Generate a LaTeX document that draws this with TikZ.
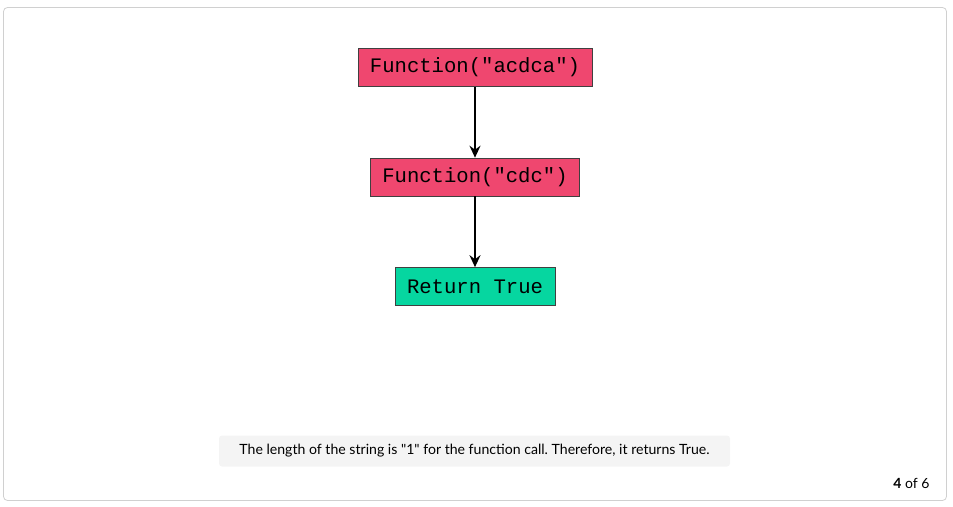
\documentclass[tikz,border=0pt]{standalone}
\usepackage{fontspec}
\setmainfont{Lato}[Ligatures=TeXOff]
\newfontfamily\monofont{Liberation Mono}
\usetikzlibrary{arrows.meta}
\definecolor{callred}{HTML}{EF476F}
\definecolor{retgreen}{HTML}{06D6A0}
\definecolor{capgray}{HTML}{F4F4F4}
\definecolor{framegray}{HTML}{D0D0D0}
\frenchspacing
\begin{document}
\begin{tikzpicture}[x=1pt,y=-1pt,
  box/.style={draw=black!75,line width=0.6pt,minimum height=38pt,inner xsep=12pt,
    font=\monofont\fontsize{20.6}{24}\selectfont},
  link/.style={-{Stealth[length=12pt,width=11pt,inset=4pt]},line width=2pt}]
            \useasboundingbox (0,0) rectangle (953,506);
            \draw[framegray,line width=0.8pt,rounded corners=4pt] (3.5,7.5) rectangle (946.5,500.5);
            
            \node[box,fill=callred] (A) at (475,67.5) {Function("acdca")};
            \node[box,fill=callred] (B) at (475,177) {Function("cdc")};
            \node[box,fill=retgreen] (C) at (475,286.5) {Return True};
            
            \path [link] (A) edge (B);
            \path [link] (B) edge (C);
            
            \node[fill=capgray,rounded corners=3pt,minimum width=511pt,minimum height=31pt,
              font=\fontsize{14.1}{17}\selectfont] (N) at (474.5,451)
              {The length of the string is "1" for the function call. Therefore, it returns True.};
            \node[anchor=east,font=\fontsize{14}{17}\selectfont] (P) at (933,483.5) {\textbf{4} of 6};
        \end{tikzpicture}
\end{document}
